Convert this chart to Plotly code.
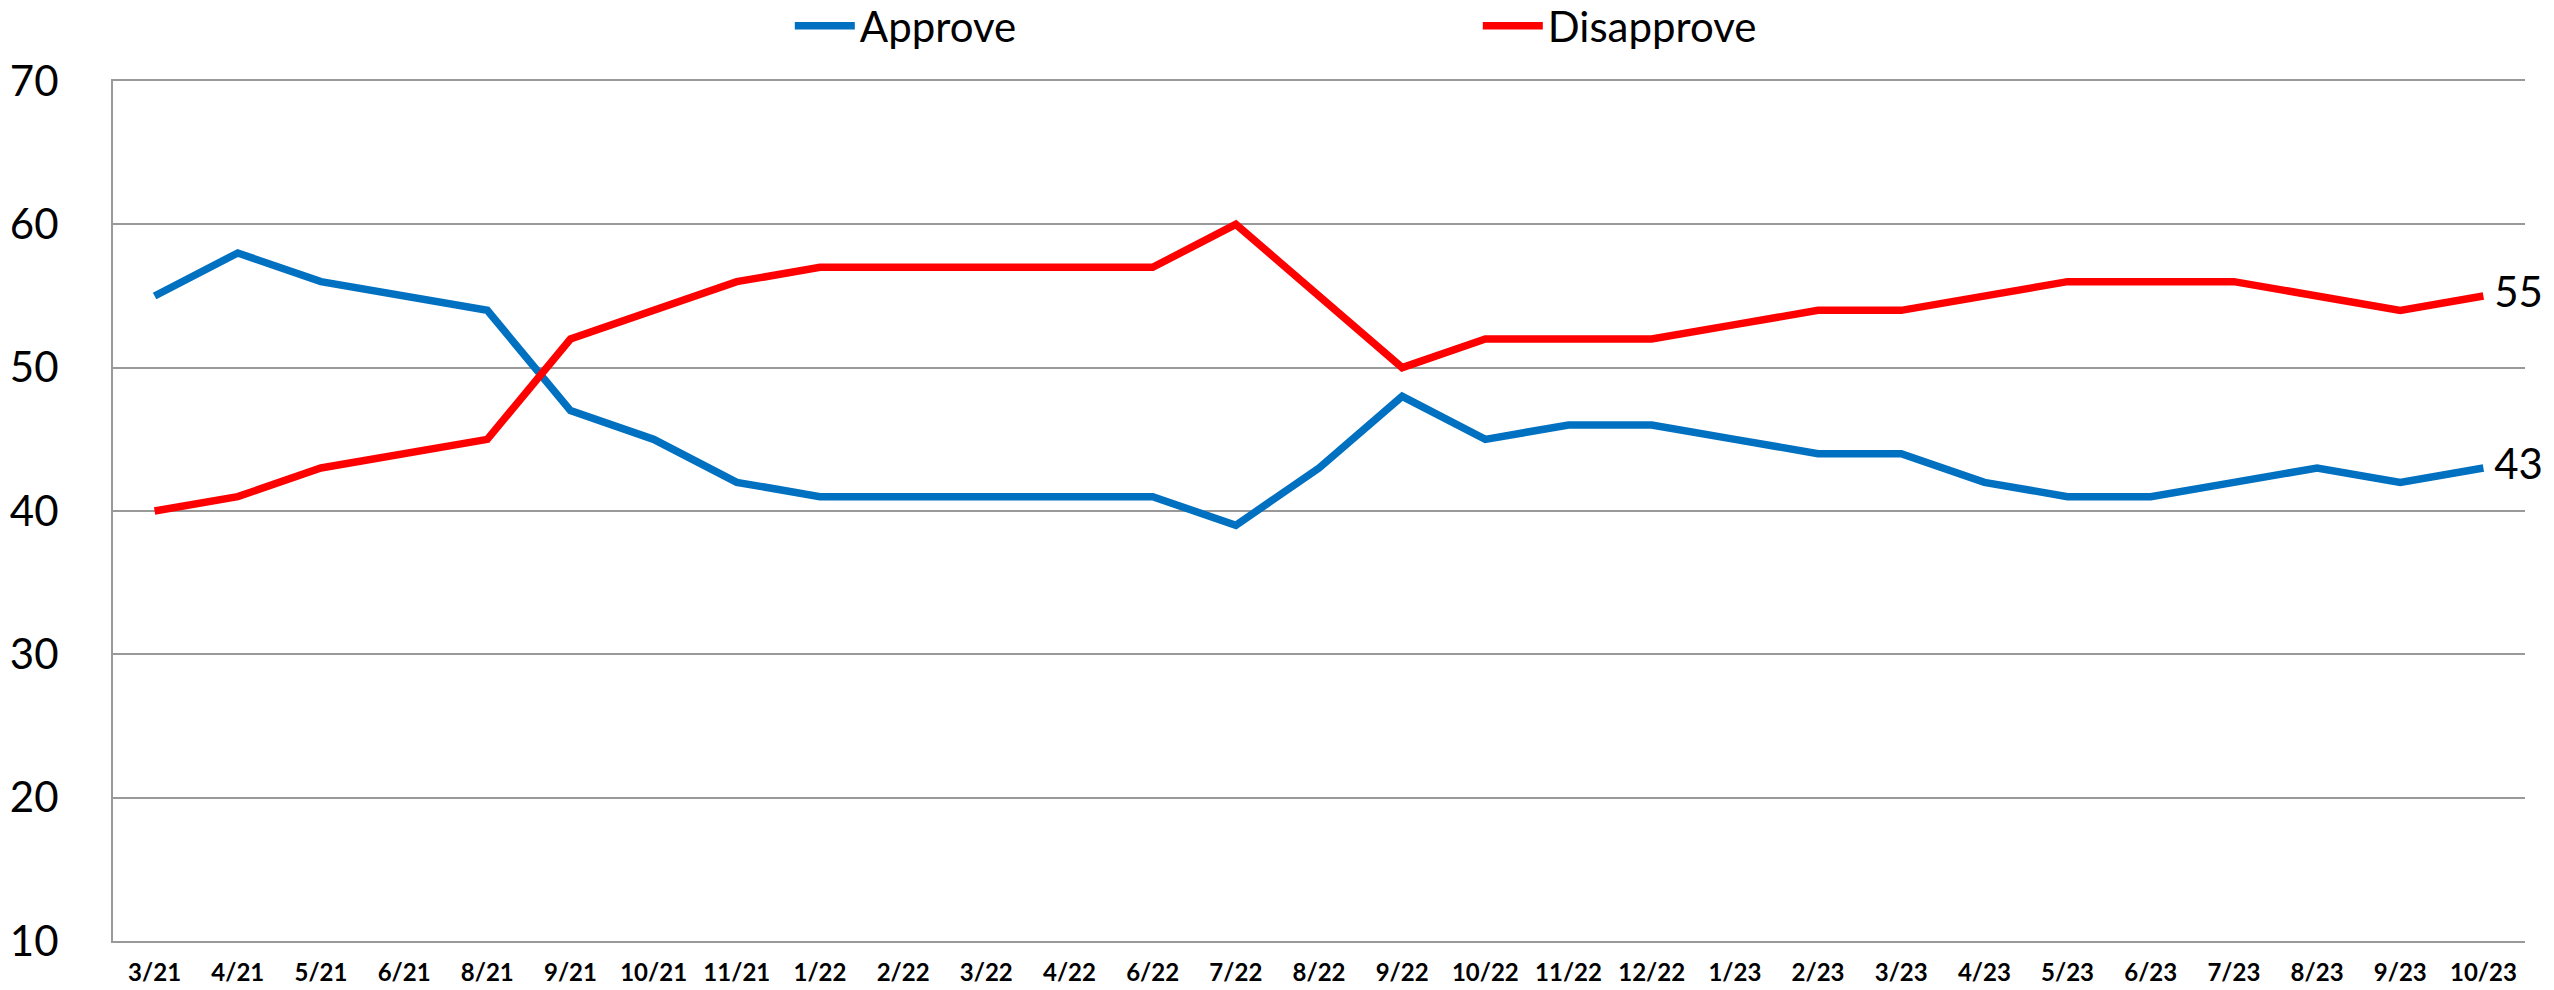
import plotly.graph_objects as go

months = ["3/21", "4/21", "5/21", "6/21", "8/21", "9/21", "10/21", "11/21", "1/22", "2/22",
          "3/22", "4/22", "6/22", "7/22", "8/22", "9/22", "10/22", "11/22", "12/22", "1/23",
          "2/23", "3/23", "4/23", "5/23", "6/23", "7/23", "8/23", "9/23", "10/23"]
approve = [55, 58, 56, 55, 54, 47, 45, 42, 41, 41, 41, 41, 41, 39, 43, 48, 45, 46, 46, 45,
           44, 44, 42, 41, 41, 42, 43, 42, 43]
disapprove = [40, 41, 43, 44, 45, 52, 54, 56, 57, 57, 57, 57, 57, 60, 55, 50, 52, 52, 52, 53,
              54, 54, 55, 56, 56, 56, 55, 54, 55]
y_ticks = [10, 20, 30, 40, 50, 60, 70]

BLUE = "#0070C0"
RED = "#FF0000"
FONT = "Lato"

def end_text(vals):
    return [""] * (len(vals) - 1) + [" " + str(vals[-1])]

fig = go.Figure()
fig.add_trace(go.Scatter(x=months, y=approve, name="Approve", mode="lines+text",
                         line=dict(color=BLUE, width=7.5),
                         text=end_text(approve), textposition="middle right",
                         textfont=dict(family=FONT, size=42, color="black"),
                         cliponaxis=False))
fig.add_trace(go.Scatter(x=months, y=disapprove, name="Disapprove", mode="lines+text",
                         line=dict(color=RED, width=7.5),
                         text=end_text(disapprove), textposition="middle right",
                         textfont=dict(family=FONT, size=42, color="black"),
                         cliponaxis=False))

fig.update_layout(
    width=2546, height=982,
    margin=dict(l=105, r=29, t=73, b=49),
    paper_bgcolor="white", plot_bgcolor="white",
    font=dict(family=FONT, color="black"),
    showlegend=True,
    legend=dict(orientation="h", x=0.2806, xanchor="left",
                y=1 - 18 / 982, yref="container", yanchor="middle",
                font=dict(family=FONT, size=42, color="black"),
                entrywidth=613, entrywidthmode="pixels", itemwidth=60,
                bgcolor="rgba(0,0,0,0)"),
    xaxis=dict(type="category", range=[-0.5, len(months) - 0.5], automargin=False,
               showgrid=False, showline=True, mirror=True, linecolor="#999999", linewidth=2,
               ticks="", tickfont=dict(family=FONT, size=24, color="black", weight="bold"),
               ticklabelstandoff=9, fixedrange=True),
    yaxis=dict(range=[10, 70], tickvals=y_ticks, showgrid=True, gridcolor="#999999",
               gridwidth=2, showline=True, linecolor="#999999", linewidth=2,
               automargin=False,
               zeroline=False, ticks="", tickfont=dict(family=FONT, size=42, color="black"),
               ticklabelstandoff=44),
)

fig.write_html("out.html")
